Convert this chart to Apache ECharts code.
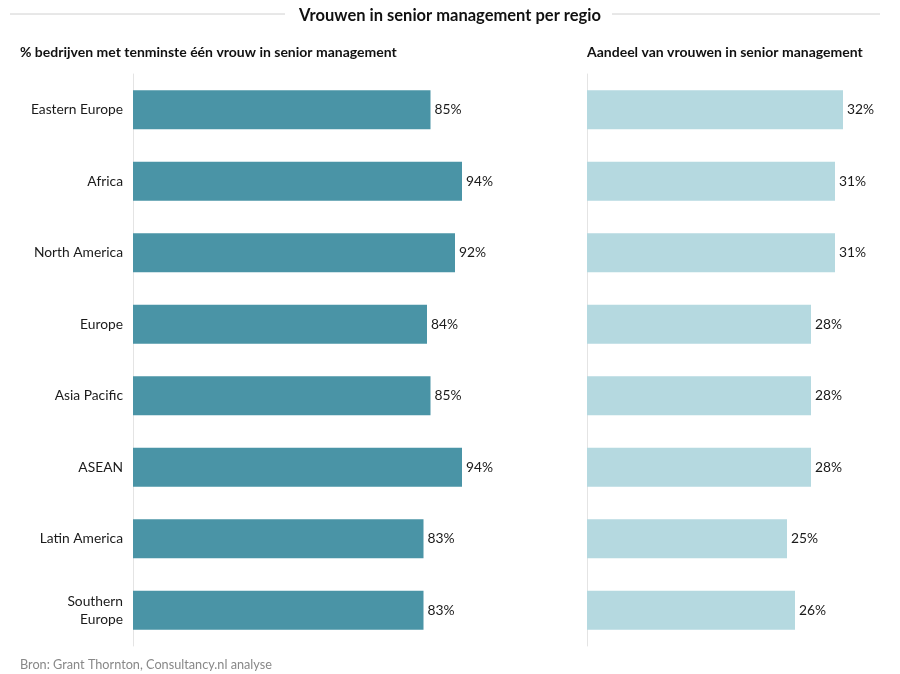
<!DOCTYPE html>
<html>
<head>
<meta charset="utf-8">
<script src="https://cdn.jsdelivr.net/npm/echarts@6/dist/echarts.min.js"></script>
<style>html,body{margin:0;padding:0;background:#fff}#c{width:900px;height:674px}</style>
</head>
<body>
<div id="c"></div>
<script>
var regions = ['Eastern Europe','Africa','North America','Europe','Asia Pacific','ASEAN','Latin America','Southern\nEurope'];
var pctCompanies = [85, 94, 92, 84, 85, 94, 83, 83];
var shareWomen = [32, 31, 31, 28, 28, 28, 25, 26];
var titleText = 'Vrouwen in senior management per regio';
var leftSub = '% bedrijven met tenminste één vrouw in senior management';
var rightSub = 'Aandeel van vrouwen in senior management';
var sourceText = 'Bron: Grant Thornton, Consultancy.nl analyse';

var FONT = 'Lato, "Open Sans", sans-serif';
var chart = echarts.init(document.getElementById('c'));
chart.setOption({
  backgroundColor: '#fff',
  animation: false,
  textStyle: {fontFamily: FONT},
  title: [
    {text: titleText, left: 'center', top: 7, padding: 0, textStyle: {fontFamily: FONT, fontSize: 16.5, fontWeight: 'bold', color: '#111'}},
    {text: leftSub, left: 20, top: 45, padding: 0, textStyle: {fontFamily: FONT, fontSize: 14, fontWeight: 'bold', color: '#111'}},
    {text: rightSub, left: 587, top: 45, padding: 0, textStyle: {fontFamily: FONT, fontSize: 14, fontWeight: 'bold', color: '#111'}},
    {text: sourceText, left: 20, top: 658, padding: 0, textStyle: {fontFamily: FONT, fontSize: 12.7, fontWeight: 'normal', color: '#888'}}
  ],
  graphic: [
    {type: 'line', shape: {x1: 10, y1: 14, x2: 285, y2: 14}, style: {stroke: '#d0d0d0', lineWidth: 1}},
    {type: 'line', shape: {x1: 612, y1: 14, x2: 880, y2: 14}, style: {stroke: '#d0d0d0', lineWidth: 1}}
  ],
  grid: [
    {left: 133, top: 74, width: 350, height: 572},
    {left: 587, top: 74, width: 288, height: 572}
  ],
  xAxis: [
    {gridIndex: 0, type: 'value', min: 0, max: 100, show: false},
    {gridIndex: 1, type: 'value', min: 0, max: 36, show: false}
  ],
  yAxis: [
    {gridIndex: 0, type: 'category', data: regions, inverse: true,
     axisLine: {show: true, lineStyle: {color: '#e4e4e4', width: 1}},
     axisTick: {show: false},
     axisLabel: {margin: 10, fontFamily: FONT, fontSize: 13.8, color: '#1a1a1a', lineHeight: 18}},
    {gridIndex: 1, type: 'category', data: regions, inverse: true,
     axisLine: {show: true, lineStyle: {color: '#e4e4e4', width: 1}},
     axisTick: {show: false},
     axisLabel: {show: false}}
  ],
  series: [
    {type: 'bar', xAxisIndex: 0, yAxisIndex: 0, data: pctCompanies, barWidth: 39,
     itemStyle: {color: '#4a94a6'},
     label: {show: true, position: 'right', distance: 4, formatter: '{c}%', fontFamily: FONT, fontSize: 13.8, color: '#1a1a1a'}},
    {type: 'bar', xAxisIndex: 1, yAxisIndex: 1, data: shareWomen, barWidth: 39,
     itemStyle: {color: '#b5d9e0'},
     label: {show: true, position: 'right', distance: 4, formatter: '{c}%', fontFamily: FONT, fontSize: 13.8, color: '#1a1a1a'}}
  ]
});
</script>
</body>
</html>
